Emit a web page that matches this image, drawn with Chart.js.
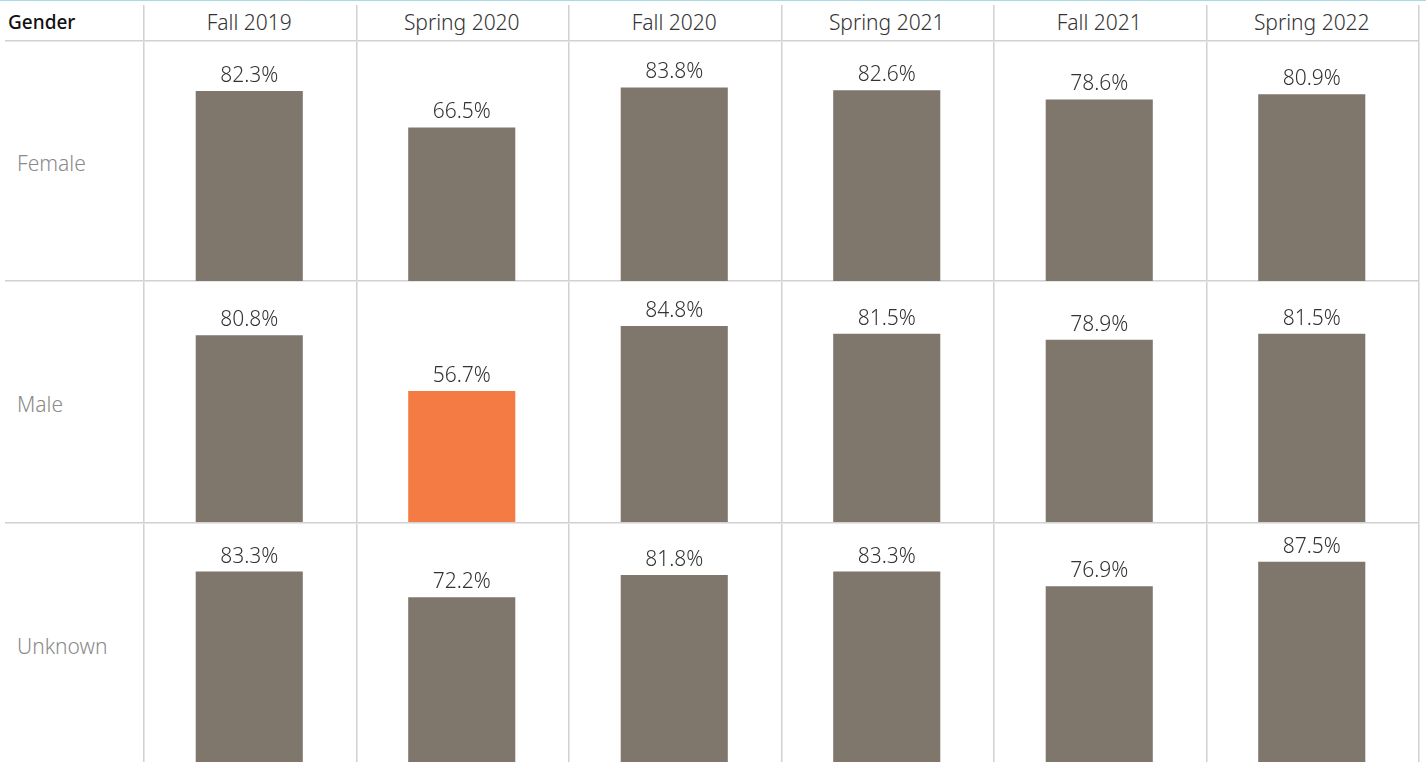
<!DOCTYPE html>
<html>
<head>
<meta charset="utf-8">
<script src="https://cdn.jsdelivr.net/npm/chart.js@4"></script>
<style>
  html, body { margin: 0; padding: 0; background: #fff; overflow: hidden; }
  #wrap { position: relative; width: 1426px; height: 762px; overflow: hidden; font-family: "Noto Sans", sans-serif; }
  .topline { position: absolute; left: 0; top: 0; width: 1426px; height: 1px; background: #a9dbe7; }
  .vline { position: absolute; width: 1px; background: #d2d2d2; box-shadow: 1px 0 0 #e6e6e6; }
  .hline { position: absolute; height: 1px; background: #d2d2d2; box-shadow: 0 1px 0 #e6e6e6; }
  .head { position: absolute; top: 7px; font-size: 21px; font-weight: 300; color: #333; text-align: center; line-height: 30px; }
  .gender { position: absolute; left: 8px; top: 7px; font-size: 19px; font-weight: 500; color: #111; line-height: 30px; }
  .rowlabel { position: absolute; left: 17px; font-size: 21px; font-weight: 300; color: #8a8a8a; line-height: 30px; }
  canvas { position: absolute; }
</style>
</head>
<body>
<div id="wrap">
  <div class="topline"></div>
  <div class="gender">Gender</div>
</div>
<script>
const terms = ['Fall 2019', 'Spring 2020', 'Fall 2020', 'Spring 2021', 'Fall 2021', 'Spring 2022'];
const genders = ['Female', 'Male', 'Unknown'];
const female = [82.3, 66.5, 83.8, 82.6, 78.6, 80.9];
const male = [80.8, 56.7, 84.8, 81.5, 78.9, 81.5];
const unknown = [83.3, 72.2, 81.8, 83.3, 76.9, 87.5];
const rows = [female, male, unknown];

// highlighted cell
const highlight = { gender: 'Male', term: 'Spring 2020' };
const barColor = '#7f766c';
const highlightColor = '#f47b43';

// layout
const colLeft = 143, colRight = 1418;
const colW = (colRight - colLeft) / terms.length;
const headerBottom = 40;
const rowTops = [41, 281, 523];
const rowHeights = [240, 241, 241];
const yMax = [103.9, 104.3, 104.3];

const wrap = document.getElementById('wrap');

function addDiv(cls, css, text) {
  const d = document.createElement('div');
  d.className = cls;
  Object.assign(d.style, css);
  if (text) d.textContent = text;
  wrap.appendChild(d);
  return d;
}

// grid lines
for (let i = 0; i <= terms.length; i++) {
  addDiv('vline', { left: Math.round(colLeft + i * colW) + 'px', top: '5px', height: '760px' });
}
[headerBottom, 280, 522].forEach(y => {
  addDiv('hline', { left: '5px', top: y + 'px', width: (colRight - 5) + 'px' });
});

// headers
terms.forEach((t, i) => {
  addDiv('head', { left: (colLeft + i * colW) + 'px', width: colW + 'px' }, t);
});
genders.forEach((g, i) => {
  addDiv('rowlabel', { top: (rowTops[i] + rowHeights[i] / 2 - 13) + 'px' }, g);
});

const valueLabels = {
  id: 'valueLabels',
  afterDatasetsDraw(chart) {
    const ctx = chart.ctx;
    ctx.save();
    ctx.font = '300 21px "Noto Sans"';
    ctx.fillStyle = '#333';
    ctx.textAlign = 'center';
    ctx.textBaseline = 'alphabetic';
    const ds = chart.data.datasets[0];
    chart.getDatasetMeta(0).data.forEach((bar, i) => {
      ctx.fillText(ds.data[i].toFixed(1) + '%', bar.x, bar.y - 9);
    });
    ctx.restore();
  }
};

rows.forEach((values, r) => {
  const c = document.createElement('canvas');
  c.width = colRight - colLeft;
  c.height = rowHeights[r];
  c.style.left = colLeft + 'px';
  c.style.top = rowTops[r] + 'px';
  wrap.appendChild(c);

  const colors = terms.map(t =>
    (genders[r] === highlight.gender && t === highlight.term) ? highlightColor : barColor);

  new Chart(c, {
    type: 'bar',
    data: {
      labels: terms,
      datasets: [{
        label: genders[r],
        data: values,
        backgroundColor: colors,
        barPercentage: 0.504,
        categoryPercentage: 1
      }]
    },
    options: {
      responsive: false,
      animation: false,
      layout: { padding: 0 },
      plugins: { legend: { display: false }, tooltip: { enabled: false } },
      scales: {
        x: { display: false },
        y: { display: false, min: 0, max: yMax[r] }
      }
    },
    plugins: [valueLabels]
  });
});
</script>
</body>
</html>
